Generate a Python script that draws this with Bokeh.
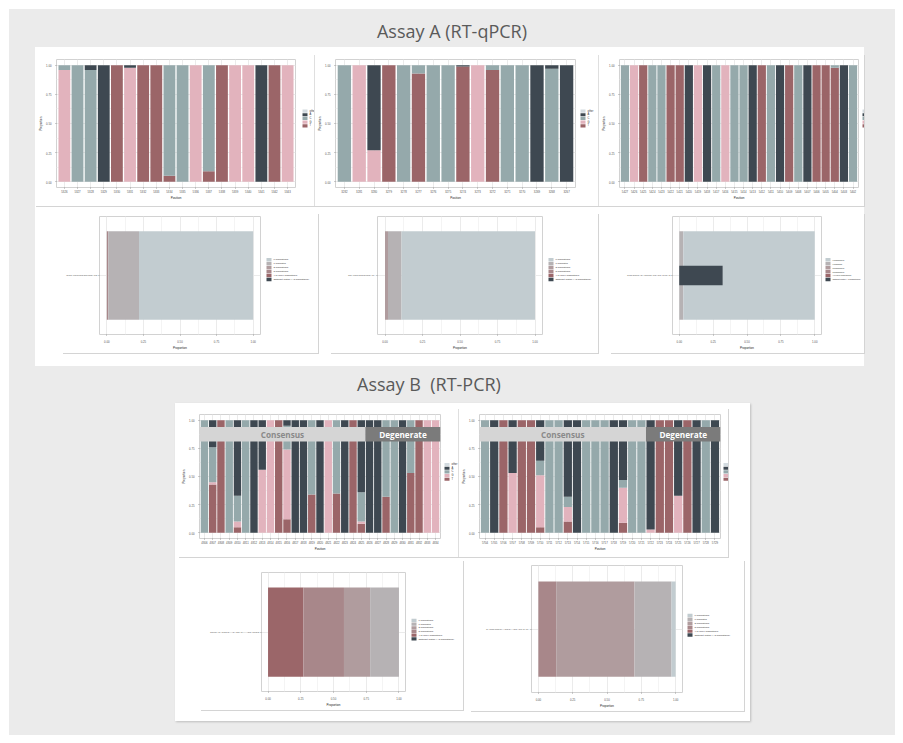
from bokeh.plotting import figure
from bokeh.models import (ColumnDataSource, Range1d, FixedTicker, NumeralTickFormatter,
                          BoxAnnotation, Label, Spacer, Div)
from bokeh.core.properties import value
from bokeh.layouts import column, row
from bokeh.embed import file_html
from bokeh.resources import INLINE

# ---------------------------------------------------------------- palette
ALLELES = ["T", "G", "C", "A", "other"]            # stacking order, bottom -> top
LEGEND_ALLELES = ["other", "A", "C", "G", "T"]     # legend order, top -> bottom
ALLELE_COLORS = {"other": "#d3dbe0", "A": "#3e4851", "C": "#95a9ab",
                 "G": "#e2b3bd", "T": "#9b6568"}

MISMATCH_CLASSES = ["0 mismatches", "1 mismatch", "2 mismatches",
                    "3 mismatches", "4 or more mismatches"]
MISMATCH_COLORS = ["#c2ccd0", "#b6b2b4", "#b09c9e", "#a8878a", "#9b6669"]
OFFTARGET_LABEL = "Offtarget match (< 3 mismatches)"
OFFTARGET_COLOR = "#3e4851"

# ---------------------------------------------------------------- Assay A, primer 1
a1_positions = ["5326", "5327", "5328", "5329", "5330", "5331", "5332", "5333", "5334",
                "5335", "5336", "5337", "5338", "5339", "5340", "5341", "5342", "5343"]
a1_T = [0, 0, 0, 0, 1, 0, 1, 1, 0.05, 0, 0, 0.09, 1, 0, 0, 0, 1, 0]
a1_G = [0.96, 0, 0, 0, 0, 0.98, 0, 0, 0, 0, 1, 0, 0, 1, 1, 0, 0, 1]
a1_C = [0.04, 1, 0.96, 0, 0, 0, 0, 0, 0.95, 1, 0, 0.91, 0, 0, 0, 0, 0, 0]
a1_A = [0, 0, 0.04, 1, 0, 0.02, 0, 0, 0, 0, 0, 0, 0, 0, 0, 1, 0, 0]
a1_mismatch = [0.78, 0.21, 0.0, 0.01, 0.0]
a1_offtarget = 0.0

# ---------------------------------------------------------------- Assay A, primer 2
a2_positions = ["3282", "3281", "3280", "3279", "3278", "3277", "3276", "3275",
                "3274", "3273", "3272", "3271", "3270", "3269", "3268", "3267"]
a2_T = [0, 0, 0, 1, 0, 0.93, 0, 0, 0.99, 0, 0.96, 0, 0, 0, 0, 0]
a2_G = [0, 1, 0.27, 0, 0, 0, 0, 0, 0, 1, 0, 0, 0, 0, 0, 0]
a2_C = [1, 0, 0, 0, 1, 0.07, 1, 1, 0, 0, 0.04, 1, 1, 0, 0.97, 0]
a2_A = [0, 0, 0.73, 0, 0, 0, 0, 0, 0.01, 0, 0, 0, 0, 1, 0.03, 1]
a2_mismatch = [0.89, 0.09, 0.02, 0.0, 0.0]
a2_offtarget = 0.0

# ---------------------------------------------------------------- Assay A, probe
a3_positions = ["5427", "5426", "5425", "5424", "5423", "5422", "5421", "5420", "5419",
                "5418", "5417", "5416", "5415", "5414", "5413", "5412", "5411", "5410",
                "5409", "5408", "5407", "5406", "5405", "5404", "5403", "5402"]
a3_T = [0, 0, 1, 0, 0, 1, 1, 0, 0, 0, 0, 0, 0, 0, 0, 1, 0, 0, 1, 0, 0, 1, 1, 0.98, 0, 0]
a3_G = [0, 1, 0, 0, 0, 0, 0, 0, 1, 0, 0, 1, 0, 0, 0, 0, 0, 0, 0, 0, 0, 0, 0, 0, 0, 0]
a3_C = [1, 0, 0, 1, 1, 0, 0, 0, 0, 0, 1, 0, 1, 1, 0, 0, 1, 0, 0, 1, 0, 0, 0, 0.02, 0, 1]
a3_A = [0, 0, 0, 0, 0, 0, 0, 1, 0, 1, 0, 0, 0, 0, 1, 0, 0, 1, 0, 0, 1, 0, 0, 0, 1, 0]
a3_mismatch = [0.97, 0.03, 0.0, 0.0, 0.0]
a3_offtarget = 0.32

# ---------------------------------------------------------------- Assay B, primer 1
b1_positions = [str(v) for v in
                [4806, 4807, 4808, 4809, 4810, 4811, 4812, 4813, 4814, 4815,
                 4816, 4817, 4818, 4819, 4820, 4821, 4822, 4823, 4824, 4825,
                 4826, 4827, 4828, 4829, 4830, 4831, 4832, 4833, 4834]]
b1_T = [0, .43, 1, 0, .05, 0, 0, 0, 0, 1, .12, 0, 0, .34, 0, 0, .35, 0, 1, .08,
        0, 0, .32, 0, 0, .53, 1, 0, 0]
b1_G = [0, .02, 0, 0, .05, 0, 0, .56, 1, 0, .62, 0, 0, 0, 0, 1, 0, 0, 0, .02,
        0, 0, 0, 0, 0, 0, 0, 1, 1]
b1_C = [1, .31, 0, 1, .23, 1, 0, 0, 0, 0, .21, 0, 0, .66, 0, 0, .65, 0, 0, .26,
        0, 0, .68, 1, 0, .47, 0, 0, 0]
b1_A = [0, .24, 0, 0, .67, 0, 1, .44, 0, 0, .05, 1, 1, 0, 1, 0, 0, 1, 0, .64,
        1, 1, 0, 0, 1, 0, 0, 0, 0]
b1_consensus_len = 20          # positions in the consensus part, the rest is degenerate
b1_mismatch = [0.0, 0.22, 0.20, 0.31, 0.27]
b1_offtarget = 0.0

# ---------------------------------------------------------------- Assay B, primer 2
b2_positions = [str(v) for v in
                [5704, 5705, 5706, 5707, 5708, 5709, 5710, 5711, 5712, 5713,
                 5714, 5715, 5716, 5717, 5718, 5719, 5720, 5721, 5722, 5723,
                 5724, 5725, 5726, 5727, 5728, 5729]]
b2_T = [0, 0, 1, 0, 1, 1, .05, 0, 0, .10, 0, 0, 0, 0, 0, .09, 0, 0, 0, 1, 1, 0, 1, 0, 0, 0]
b2_G = [0, 0, 0, .53, 0, 0, .46, 0, 0, .13, 0, 0, 0, 0, 0, .31, 0, 0, .03, 0, 0, .33, 0, 0, 0, 0]
b2_C = [1, 0, 0, 0, 0, 0, .13, 1, 1, .09, 0, 1, 1, 1, 0, .07, 1, 1, 0, 0, 0, 0, 0, 0, 1, 0]
b2_A = [0, 1, 0, .47, 0, 0, .36, 0, 0, .68, 1, 0, 0, 0, 1, .53, 0, 0, .97, 0, 0, .67, 0, 1, 0, 1]
b2_consensus_len = 18
b2_mismatch = [0.03, 0.27, 0.57, 0.13, 0.0]
b2_offtarget = 0.0

TICK_TXT = "2.8px"
TITLE_TXT = "3px"
FONT = "Liberation Sans"
SHADOW = {"box-shadow": "1px 1px 0 #d4d4d4"}


def consensus(T, G, C, A):
    """Majority base at every position of an oligo."""
    out = []
    for t, g, c, a in zip(T, G, C, A):
        share = {"T": t, "G": g, "C": c, "A": a}
        out.append(max(share, key=share.get))
    return "".join(out)


def base_figure(w, h, x_range, y_range, borders):
    left, right, top, bottom = borders
    return figure(width=w, height=h, x_range=x_range, y_range=y_range, title=None,
                  min_border_left=left, min_border_right=right, min_border_top=top,
                  min_border_bottom=bottom, output_backend="svg", toolbar_location=None,
                  background_fill_color="white", border_fill_color="white",
                  outline_line_color="#d2d2d2")


def style_axes(p):
    for ax in (p.xaxis[0], p.yaxis[0]):
        ax.axis_line_color = None
        ax.major_tick_line_color = "#9a9a9a"
        ax.major_tick_out = 1
        ax.major_tick_in = 0
        ax.minor_tick_line_color = None
        ax.major_label_text_font_size = TICK_TXT
        ax.major_label_text_font = FONT
        ax.major_label_text_color = "#555555"
        ax.major_label_standoff = 1
        ax.axis_label_text_font_size = TITLE_TXT
        ax.axis_label_text_font = FONT
        ax.axis_label_text_font_style = "normal"
        ax.axis_label_text_color = "#222222"
        ax.axis_label_standoff = 1
    p.xgrid.grid_line_color = "#ebebeb"
    p.ygrid.grid_line_color = "#ebebeb"


def key_strip(labels, colors, w, h, x0, t0, rh, text_size, show_text=True):
    """Colour key drawn in a narrow strip, in pixel units of the strip."""
    kf = figure(width=w, height=h, x_range=Range1d(0, w), y_range=Range1d(0, h), title=None,
                x_axis_type=None, y_axis_type=None, min_border=0, output_backend="svg",
                toolbar_location=None, outline_line_color=None,
                background_fill_color="white", border_fill_color="white")
    ys = [h - (t0 + rh * (i + 0.5)) for i in range(len(labels))]
    src = ColumnDataSource(dict(y=ys, label=labels, color=colors))
    kf.rect(x=x0 + 2.5, y="y", width=5, height=rh - 0.6, source=src,
            fill_color="color", line_color=None)
    if show_text:
        kf.text(x=x0 + 7, y="y", text="label", source=src, text_font=value(FONT),
                text_font_size=text_size, text_baseline="middle", text_color="#333333")
    return kf


def allele_panel(positions, T, G, C, A, w, h, borders, consensus_len=None):
    n = len(positions)
    idx = list(range(1, n + 1))
    src = ColumnDataSource(dict(x=idx, T=T, G=G, C=C, A=A, other=[0.0] * n))
    p = base_figure(w, h, Range1d(0.4, n + 0.6), Range1d(-0.05, 1.05), borders)
    p.vbar_stack(ALLELES, x="x", width=0.9, source=src,
                 fill_color=[ALLELE_COLORS[a] for a in ALLELES], line_color=None)
    p.xaxis.ticker = FixedTicker(ticks=idx)
    p.xaxis.major_label_overrides = {i: lab for i, lab in zip(idx, positions)}
    p.yaxis.ticker = FixedTicker(ticks=[0, 0.25, 0.5, 0.75, 1.0],
                                 minor_ticks=[0.125, 0.375, 0.625, 0.875])
    p.yaxis.formatter = NumeralTickFormatter(format="0.00")
    p.xaxis.axis_label = "Position"
    p.yaxis.axis_label = "Proportion"
    style_axes(p)
    p.ygrid.minor_grid_line_color = "#f4f4f4"

    if consensus_len is not None:
        split = consensus_len + 0.5
        p.add_layout(BoxAnnotation(bottom=0.81, top=0.94, right=split, fill_color="#d5d5d5",
                                   fill_alpha=1, line_color=None))
        p.add_layout(BoxAnnotation(bottom=0.81, top=0.94, left=split, fill_color="#7b7b7b",
                                   fill_alpha=1, line_color=None))
        p.add_layout(Label(x=(0.4 + split) / 2, y=0.875, text="Consensus", text_align="center",
                           text_baseline="middle", text_font_size="8.2px",
                           text_font="Open Sans", text_font_style="bold",
                           text_color="#8a8a8a"))
        p.add_layout(Label(x=(split + n + 0.6) / 2, y=0.875, text="Degenerate",
                           text_align="center", text_baseline="middle", text_font_size="8.2px",
                           text_font="Open Sans", text_font_style="bold", text_color="white"))
    return p


def allele_key(w, h, x0, t0, show_text=True):
    return key_strip(LEGEND_ALLELES, [ALLELE_COLORS[a] for a in LEGEND_ALLELES],
                     w, h, x0, t0, 4.4, "2.6px", show_text)


def mismatch_panel(label, shares, offtarget, w, h, borders):
    cols = {f"m{k}": [shares[k]] for k in range(5)}
    src = ColumnDataSource(dict(y=[1], off=[offtarget], **cols))
    order = [4, 3, 2, 1, 0]                       # left -> right
    p = base_figure(w, h, Range1d(-0.05, 1.05), Range1d(0.4, 1.6), borders)
    p.hbar_stack([f"m{k}" for k in order], y="y", height=0.9, source=src,
                 fill_color=[MISMATCH_COLORS[k] for k in order], line_color=None)
    p.hbar(y="y", left=0, right="off", height=0.2, source=src,
           fill_color=OFFTARGET_COLOR, line_color=None)
    p.xaxis.ticker = FixedTicker(ticks=[0, 0.25, 0.5, 0.75, 1.0],
                                 minor_ticks=[0.125, 0.375, 0.625, 0.875])
    p.xaxis.formatter = NumeralTickFormatter(format="0.00")
    p.yaxis.ticker = FixedTicker(ticks=[1])
    p.yaxis.major_label_overrides = {1: label}
    p.xaxis.axis_label = "Proportion"
    style_axes(p)
    p.yaxis.major_label_text_font_size = "2.5px"
    p.xgrid.minor_grid_line_color = "#f4f4f4"
    return p


def mismatch_key(w, h, x0, t0, text="2.4px"):
    return key_strip(MISMATCH_CLASSES + [OFFTARGET_LABEL], MISMATCH_COLORS + [OFFTARGET_COLOR],
                     w, h, x0, t0, 4.67, text)


def gap(w, h):
    return Spacer(width=w, height=h)


def framed(*children):
    return row(*children, styles=SHADOW)


# ---------------------------------------------------------------- Assay A panels
A1t = allele_panel(a1_positions, a1_T, a1_G, a1_C, a1_A, 262, 152, (18, 2, 5, 19))
A2t = allele_panel(a2_positions, a2_T, a2_G, a2_C, a2_A, 263, 152, (18, 2, 5, 19))
A3t = allele_panel(a3_positions, a3_T, a3_G, a3_C, a3_A, 262, 152, (18, 2, 5, 19))
A1b = mismatch_panel(consensus(a1_T, a1_G, a1_C, a1_A), a1_mismatch, a1_offtarget,
                     200, 140, (37, 2, 3, 19))
A2b = mismatch_panel(consensus(a2_T, a2_G, a2_C, a2_A), a2_mismatch, a2_offtarget,
                     214, 140, (47, 2, 3, 19))
A3b = mismatch_panel(consensus(a3_T, a3_G, a3_C, a3_A), a3_mismatch, a3_offtarget,
                     213, 140, (62, 2, 3, 19))

panel_a = column(
    gap(829, 7),
    row(framed(A1t, allele_key(17, 152, 5, 59)),
        framed(A2t, allele_key(21, 152, 3, 59)),
        framed(A3t, allele_key(4, 152, 2, 59, show_text=False))),
    gap(829, 7),
    row(gap(27, 140), framed(A1b, mismatch_key(56, 140, 4, 49)), gap(12, 140),
        framed(A2b, mismatch_key(54, 140, 4, 49)), gap(12, 140),
        framed(A3b, mismatch_key(41, 140, 2, 49, text="1.9px"))),
    gap(829, 13),
    width=829, height=319,
    styles={"background-color": "white"},
)

# ---------------------------------------------------------------- Assay B panels
B1t = allele_panel(b1_positions, b1_T, b1_G, b1_C, b1_A, 264, 149, (18, 2, 6, 19),
                   consensus_len=b1_consensus_len)
B2t = allele_panel(b2_positions, b2_T, b2_G, b2_C, b2_A, 264, 149, (18, 2, 6, 19),
                   consensus_len=b2_consensus_len)
B1b = mismatch_panel(consensus(b1_T, b1_G, b1_C, b1_A), b1_mismatch, b1_offtarget,
                     207, 150, (61, 2, 12, 19))
B2b = mismatch_panel(consensus(b2_T, b2_G, b2_C, b2_A), b2_mismatch, b2_offtarget,
                     214, 151, (61, 2, 5, 19))

panel_b = column(
    gap(575, 5),
    row(gap(3, 149), framed(B1t, allele_key(16, 149, 2, 58)),
        framed(B2t, allele_key(6, 149, 1, 58, show_text=False)), gap(22, 149)),
    gap(575, 3),
    row(gap(25, 151), framed(B1b, mismatch_key(56, 150, 4, 58)), gap(7, 151),
        framed(B2b, mismatch_key(60, 151, 3, 57)), gap(6, 151)),
    gap(575, 10),
    width=575, height=318,
    styles={"background-color": "white", "box-shadow": "1px 1px 2px #bdbdbd"},
)

title_style = "font-family:'Open Sans';font-size:18px;color:#5a5a5a;white-space:pre;"
title_a = Div(text=f'<div style="{title_style}width:886px;text-align:center;padding-top:10px">'
                   'Assay A (RT-qPCR)</div>', width=886, height=38, margin=0)
title_b = Div(text=f'<div style="{title_style}padding-left:348px;padding-top:6px">'
                   'Assay B  (RT-PCR)</div>', width=886, height=37, margin=0)

sheet = column(
    title_a,
    row(gap(26, 319), panel_a, gap(31, 319)),
    title_b,
    row(gap(166, 318), panel_b, gap(145, 318)),
    gap(886, 14),
    styles={"background-color": "#ebebeb"},
)

page = column(gap(895, 9), row(gap(9, 726), sheet))

open("out.html", "w").write(file_html(page, INLINE))
